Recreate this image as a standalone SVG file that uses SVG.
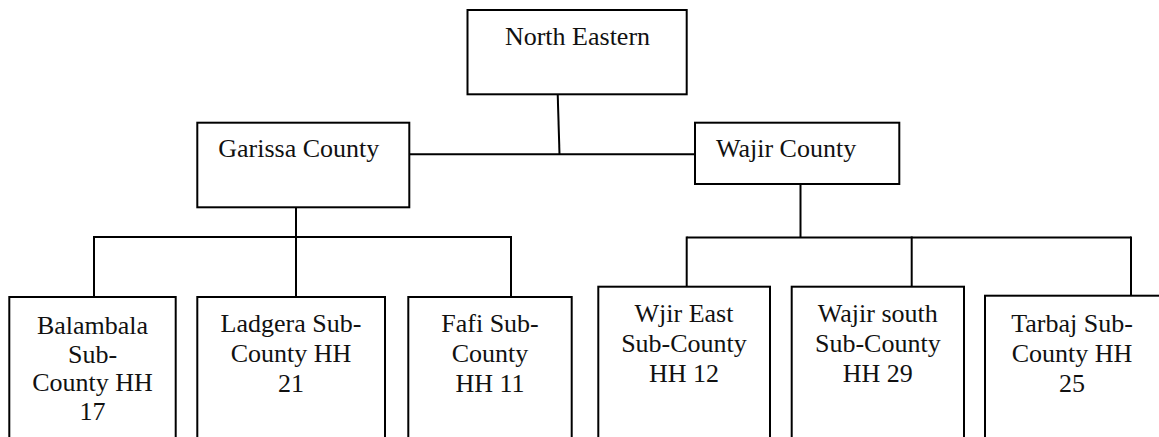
<svg xmlns="http://www.w3.org/2000/svg" width="1159" height="437" viewBox="0 0 1159 437">
<style>
.box{fill:#fff;stroke:#000;stroke-width:2}
.t{font-family:"Liberation Serif","Times New Roman",serif;font-size:26px;fill:#111}
.c{text-anchor:middle}
.ln{stroke:#000;stroke-width:2;fill:none}
</style>
<rect width="1159" height="437" fill="#fff"/>
<g id="connectors">
<line class="ln" x1="557.7" y1="94" x2="559.5" y2="154.3"/>
<line class="ln" x1="409" y1="154.3" x2="695" y2="154.3"/>
<line class="ln" x1="296" y1="207.3" x2="296" y2="297"/>
<line class="ln" x1="94" y1="237" x2="511" y2="237"/>
<line class="ln" x1="94" y1="236" x2="94" y2="297"/>
<line class="ln" x1="511" y1="236" x2="511" y2="297"/>
<line class="ln" x1="800.5" y1="184" x2="800.5" y2="237.5"/>
<line class="ln" x1="686.7" y1="237.5" x2="1131" y2="237.5"/>
<line class="ln" x1="686.7" y1="236.5" x2="686.7" y2="286.7"/>
<line class="ln" x1="911.7" y1="236.5" x2="911.7" y2="286.7"/>
<line class="ln" x1="1131" y1="236.5" x2="1131" y2="295.7"/>
</g>
<g id="north-eastern">
<rect class="box" x="467.5" y="10" width="219.2" height="84.3"/>
<text class="t c" x="577.5" y="45">North Eastern</text>
</g>
<g id="garissa">
<rect class="box" x="197.3" y="122.7" width="212" height="84.6"/>
<text class="t" x="218.3" y="156.7">Garissa County</text>
</g>
<g id="wajir">
<rect class="box" x="695" y="122.7" width="204.3" height="61.3"/>
<text class="t" x="716" y="156.7">Wajir County</text>
</g>
<g id="balambala">
<rect class="box" x="9.3" y="297" width="166.4" height="160"/>
<text class="t c" x="92.5" y="334">Balambala</text>
<text class="t c" x="92.5" y="362.5">Sub-</text>
<text class="t c" x="92.5" y="391">County HH</text>
<text class="t c" x="92.5" y="419.5">17</text>
</g>
<g id="ladgera">
<rect class="box" x="197.3" y="297" width="187.7" height="160"/>
<text class="t c" x="291" y="331.7">Ladgera Sub-</text>
<text class="t c" x="291" y="361.7">County HH</text>
<text class="t c" x="291" y="391.7">21</text>
</g>
<g id="fafi">
<rect class="box" x="408.3" y="297" width="163.4" height="160"/>
<text class="t c" x="490" y="331.7">Fafi Sub-</text>
<text class="t c" x="490" y="361.7">County</text>
<text class="t c" x="490" y="391.7">HH 11</text>
</g>
<g id="wjir-east">
<rect class="box" x="598.3" y="286.7" width="171.7" height="170"/>
<text class="t c" x="684" y="321.7">Wjir East</text>
<text class="t c" x="684" y="351.7">Sub-County</text>
<text class="t c" x="684" y="381.7">HH 12</text>
</g>
<g id="wajir-south">
<rect class="box" x="791.7" y="286.7" width="172.3" height="170"/>
<text class="t c" x="877.8" y="321.7">Wajir south</text>
<text class="t c" x="877.8" y="351.7">Sub-County</text>
<text class="t c" x="877.8" y="381.7">HH 29</text>
</g>
<g id="tarbaj">
<rect class="box" x="985" y="295.7" width="176" height="170"/>
<text class="t c" x="1072" y="331.7">Tarbaj Sub-</text>
<text class="t c" x="1072" y="361.7">County HH</text>
<text class="t c" x="1072" y="391.7">25</text>
</g>
</svg>
